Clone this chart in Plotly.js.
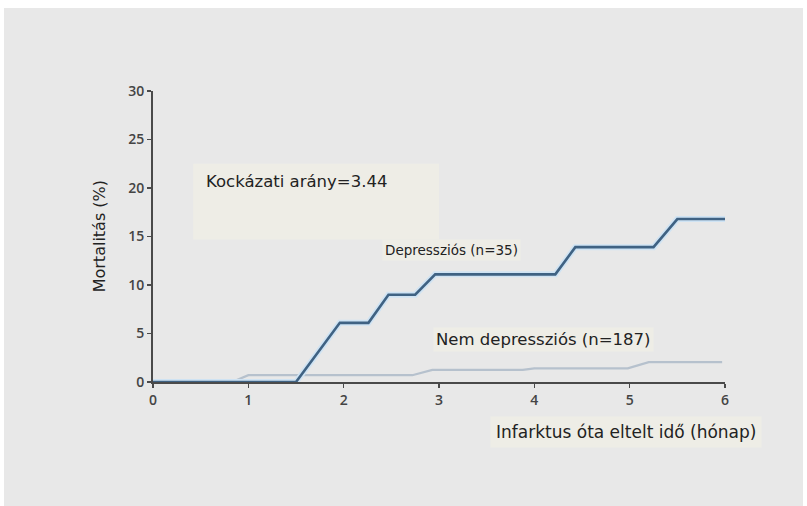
<!DOCTYPE html>
<html>
<head>
<meta charset="utf-8">
<script src="https://cdn.plot.ly/plotly-3.0.1.min.js"></script>
<style>
  html, body { margin: 0; padding: 0; background: #ffffff; width: 807px; height: 506px; overflow: hidden; }
  #chart { position: absolute; left: 4px; top: 8px; width: 799px; height: 498px; }
</style>
</head>
<body>
<div id="chart"></div>
<script>
// Depressziós (n=35)
const depX = [0, 1.5, 1.96, 2.26, 2.47, 2.75, 2.96, 4.22, 4.43, 5.25, 5.5, 6.0];
const depY = [0, 0, 6.1, 6.1, 9.0, 9.0, 11.1, 11.1, 13.9, 13.9, 16.8, 16.8];
// Nem depressziós (n=187)
const nonX = [0, 0.83, 1.0, 2.72, 2.93, 3.88, 4.0, 4.98, 5.2, 5.97];
const nonY = [0, 0, 0.7, 0.7, 1.25, 1.25, 1.4, 1.4, 2.05, 2.05];

const xTicks = [0, 1, 2, 3, 4, 5, 6];
const yTicks = [0, 5, 10, 15, 20, 25, 30];

const labelHR = "Kockázati arány=3.44";
const labelDep = "Depressziós (n=35)";
const labelNon = "Nem depressziós (n=187)";
const xTitle = "Infarktus óta eltelt idő (hónap)";
const yTitle = "Mortalitás (%)";

const FONT = "Open Sans, DejaVu Sans, sans-serif";
const TFONT = "DejaVu Sans, Verdana, sans-serif";

const traces = [
  { x: nonX, y: nonY, mode: "lines", line: { color: "#b6c1cd", width: 2.2 }, hoverinfo: "skip" },
  { x: depX, y: depY, mode: "lines", line: { color: "#cfe3f3", width: 6 }, hoverinfo: "skip" },
  { x: depX, y: depY, mode: "lines", line: { color: "#3f6283", width: 2.6 }, hoverinfo: "skip" }
];

const layout = {
  width: 799, height: 498,
  margin: { l: 149, r: 78, t: 83, b: 124 },
  paper_bgcolor: "#e8e8e8",
  plot_bgcolor: "rgba(0,0,0,0)",
  showlegend: false,
  font: { family: FONT, color: "#222222", size: 14 },
  xaxis: {
    range: [0, 6],
    tickvals: xTicks,
    ticktext: xTicks.map(String),
    showgrid: false, zeroline: false,
    showline: true, linecolor: "#4a4a4a", linewidth: 2,
    ticks: "outside", ticklen: 4, tickcolor: "#4a4a4a", tickwidth: 1.5,
    tickfont: { family: FONT, size: 14, color: "#444444", weight: 600 },
    fixedrange: true
  },
  yaxis: {
    range: [0, 30],
    tickvals: yTicks,
    ticktext: yTicks.map(String),
    showgrid: false, zeroline: false,
    showline: true, linecolor: "#4a4a4a", linewidth: 2,
    ticks: "outside", ticklen: 4, tickcolor: "#4a4a4a", tickwidth: 1.5,
    tickfont: { family: FONT, size: 14, color: "#444444", weight: 600 },
    fixedrange: true
  },
  shapes: [
    { type: "rect", xref: "paper", yref: "paper", x0: 0.07, x1: 0.5, y0: 0.49, y1: 0.75,
      fillcolor: "#eeede6", line: { width: 0 }, layer: "below" }
  ],
  annotations: [
    { text: labelHR, x: 0.54, y: 20.7, xref: "x", yref: "y", xanchor: "left", yanchor: "middle",
      showarrow: false, font: { family: TFONT, size: 16.5, color: "#222222" } },
    { text: labelDep, x: 2.40, y: 13.6, xref: "x", yref: "y", xanchor: "left", yanchor: "middle",
      showarrow: false, bgcolor: "#eeede6", borderpad: 2, font: { family: TFONT, size: 13.5, color: "#222222" } },
    { text: labelNon, x: 2.94, y: 4.35, xref: "x", yref: "y", xanchor: "left", yanchor: "middle",
      showarrow: false, bgcolor: "#eeede6", borderpad: 2, font: { family: TFONT, size: 16.5, color: "#222222" } },
    { text: xTitle, x: 3.54, y: -0.172, xref: "x", yref: "paper", xanchor: "left", yanchor: "middle",
      showarrow: false, bgcolor: "#eeede6", borderpad: 5, font: { family: TFONT, size: 17, color: "#222222" } },
    { text: yTitle, x: -0.093, y: 0.5, xref: "paper", yref: "paper", xanchor: "center", yanchor: "middle",
      textangle: -90, showarrow: false, font: { family: TFONT, size: 16, color: "#222222" } }
  ]
};

Plotly.newPlot("chart", traces, layout, { displayModeBar: false, staticPlot: true });
</script>
</body>
</html>
